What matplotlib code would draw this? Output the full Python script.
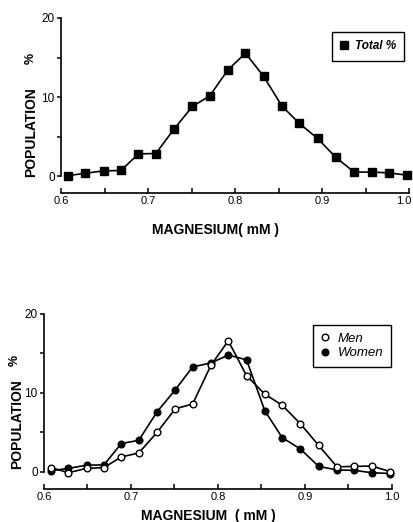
import matplotlib
matplotlib.use('Agg')
import matplotlib.pyplot as plt
import matplotlib.transforms as mtransforms
from matplotlib.lines import Line2D

plt.rcParams['font.family'] = ['Liberation Sans', 'DejaVu Sans']

# magnesium bin centres (mM)
mag = [0.608, 0.628, 0.649, 0.669, 0.689, 0.709, 0.730, 0.751, 0.771, 0.792,
       0.812, 0.833, 0.854, 0.874, 0.895, 0.916, 0.937, 0.957, 0.977, 0.998]

# population %
total = [0.05, 0.35, 0.65, 0.7, 2.8, 2.85, 5.95, 8.8, 10.15, 13.45,
         15.55, 12.6, 8.85, 6.65, 4.75, 2.35, 0.5, 0.5, 0.4, 0.1]
men = [0.55, -0.1, 0.45, 0.55, 1.9, 2.4, 5.0, 8.0, 8.6, 13.5,
       16.6, 12.2, 9.85, 8.45, 6.1, 3.35, 0.65, 0.7, 0.75, 0.05]
women = [0.15, 0.45, 0.85, 0.9, 3.6, 4.0, 7.6, 10.4, 13.3, 13.8,
         14.8, 14.2, 7.75, 4.35, 2.9, 0.7, 0.25, 0.2, -0.1, -0.2]

xticks = [0.6, 0.7, 0.8, 0.9, 1.0]
xlabels = ['0.6', '0.7', '0.8', '0.9', '1.0']
yticks = [0, 10, 20]

W, H = 413, 522
fig = plt.figure(figsize=(W / 100, H / 100), dpi=100)


def style(ax):
    ax.set_xlim(0.6, 1.0)
    ax.set_ylim(-2.2, 20)
    for s in ['top', 'right']:
        ax.spines[s].set_visible(False)
    ax.spines['left'].set_bounds(0, 20)
    ax.spines['bottom'].set_bounds(0.6, 1.0)
    for s in ['left', 'bottom']:
        ax.spines[s].set_linewidth(1.2)
    ax.set_xticks(xticks)
    ax.set_xticklabels(xlabels)
    ax.set_xticks([0.65, 0.75, 0.85, 0.95], minor=True)
    ax.set_yticks(yticks)
    ax.set_yticks([5, 15], minor=True)
    ax.tick_params(axis='x', which='both', direction='in', length=3.5, width=1.1,
                   pad=2, labelsize=8)
    ax.tick_params(axis='y', which='both', direction='out', length=3, width=1.1,
                   pad=1.5, labelsize=8.5)


# top panel
ax1 = fig.add_axes([61 / W, 1 - 193.4 / H, 348 / W, 175.4 / H])
style(ax1)
ax1.plot(mag, total, color='black', lw=1.2, marker='s', ms=5.5, clip_on=False)
# pull the last label in a little so it stays inside the figure
last = ax1.get_xticklabels()[-1]
last.set_transform(last.get_transform() +
                   mtransforms.ScaledTranslation(-5 / 100, 0, fig.dpi_scale_trans))
h1 = Line2D([], [], color='black', marker='s', ms=5.5, lw=0)
leg1 = ax1.legend([h1], ['Total %'], loc='upper left', bbox_to_anchor=(0.78, 0.92),
                  borderaxespad=0, handlelength=0.6, handletextpad=0.6,
                  fancybox=False, edgecolor='black', framealpha=1,
                  prop={'style': 'italic', 'weight': 'bold', 'size': 8.5},
                  borderpad=0.7)
leg1.get_frame().set_linewidth(1.0)

fig.text(216 / W, 1 - 230 / H, 'MAGNESIUM( mM )', ha='center', va='center',
         fontsize=10, fontweight='bold')
fig.text(31 / W, 1 - 132 / H, 'POPULATION', rotation=90, ha='center', va='center',
         fontsize=10, fontweight='bold')
fig.text(31 / W, 1 - 58 / H, '%', rotation=90, ha='center', va='center',
         fontsize=9, fontweight='bold')

# bottom panel
ax2 = fig.add_axes([44 / W, 1 - 489.3 / H, 347.7 / W, 175.3 / H])
style(ax2)
ax2.plot(mag, women, color='black', lw=1.2, marker='o', ms=4.8,
         mfc='black', mec='black', clip_on=False)
ax2.plot(mag, men, color='black', lw=1.2, marker='o', ms=4.8,
         mfc='white', mec='black', clip_on=False)
hm = Line2D([], [], color='black', marker='o', ms=4.8, mfc='white', lw=0)
hw = Line2D([], [], color='black', marker='o', ms=4.8, mfc='black', lw=0)
leg2 = ax2.legend([hm, hw], ['Men', 'Women'], loc='upper left',
                  bbox_to_anchor=(0.775, 0.937), borderaxespad=0,
                  handlelength=0.6, handletextpad=0.7, labelspacing=0.2,
                  fancybox=False, edgecolor='black', framealpha=1,
                  prop={'style': 'italic', 'size': 9.5}, borderpad=0.55)
leg2.get_frame().set_linewidth(1.0)

fig.text(208 / W, 1 - 516 / H, 'MAGNESIUM  ( mM )', ha='center', va='center',
         fontsize=10, fontweight='bold')
fig.text(17 / W, 1 - 424 / H, 'POPULATION', rotation=90, ha='center', va='center',
         fontsize=10, fontweight='bold')
fig.text(15 / W, 1 - 360 / H, '%', rotation=90, ha='center', va='center',
         fontsize=9, fontweight='bold')

fig.savefig('out.png', dpi=100)
